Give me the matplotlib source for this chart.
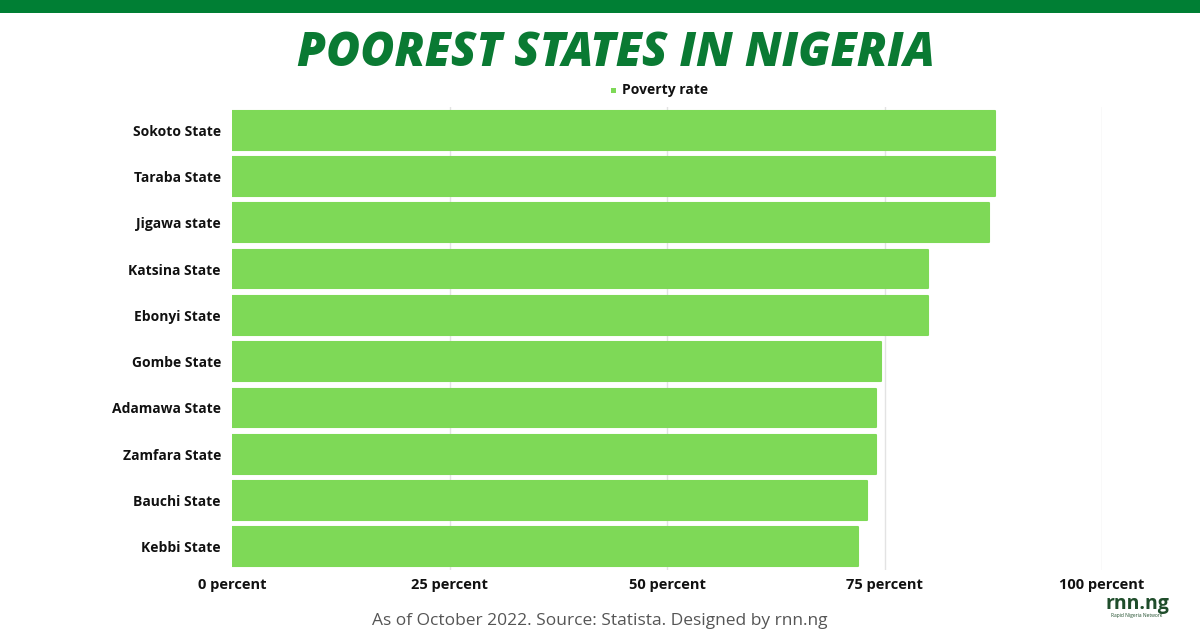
import matplotlib
matplotlib.use('Agg')
import matplotlib.pyplot as plt
from matplotlib.patches import Rectangle

# Data
states = ["Sokoto State", "Taraba State", "Jigawa state", "Katsina State", "Ebonyi State",
          "Gombe State", "Adamawa State", "Zamfara State", "Bauchi State", "Kebbi State"]
poverty_rate = [87.7, 87.7, 87.0, 80.0, 80.0, 74.6, 74.0, 74.0, 73.0, 72.0]
x_ticks = [0, 25, 50, 75, 100]
x_tick_labels = ["0 percent", "25 percent", "50 percent", "75 percent", "100 percent"]

BAR_GREEN = "#7ED957"
DARK_GREEN = "#007F34"

plt.rcParams['font.family'] = ['Open Sans', 'DejaVu Sans']

fig = plt.figure(figsize=(12, 6.3), dpi=100)
fig.patch.set_facecolor('white')

# top band
fig.patches.append(Rectangle((0, 1 - 13 / 630), 1, 13 / 630, transform=fig.transFigure,
                             facecolor=DARK_GREEN, edgecolor='none'))

fig.text(0.513, 1 - 54 / 630, "POOREST STATES IN NIGERIA", ha='center', va='center',
         fontsize=33.5, fontweight='heavy', fontstyle='italic', color="#0A7A33")

ax = fig.add_axes([232 / 1200, 1 - 570 / 630, 870 / 1200, 463 / 630])
y = list(range(len(states)))
ax.barh(y, poverty_rate, height=0.84, color=BAR_GREEN, edgecolor=BAR_GREEN,
        linewidth=1.5, joinstyle='round', zorder=3)
ax.set_ylim(len(states) - 0.5, -0.5)
ax.set_xlim(0, 100)
ax.set_yticks(y)
ax.set_yticklabels(states, fontsize=10, fontweight='bold', color='#111111')
ax.set_xticks(x_ticks)
ax.set_xticklabels(x_tick_labels, fontsize=10.5, fontweight='bold', color='#111111')
ax.tick_params(axis='both', length=0)
ax.tick_params(axis='y', pad=8)
ax.tick_params(axis='x', pad=6)
for t in x_ticks[1:]:
    ax.axvline(t, color='#E3E3E3', linewidth=1, zorder=1)
for s in ax.spines.values():
    s.set_visible(False)

# legend
fig.patches.append(Rectangle((611 / 1200, 1 - 93 / 630), 5 / 1200, 5 / 630,
                             transform=fig.transFigure, facecolor=BAR_GREEN, edgecolor='none'))
fig.text(622 / 1200, 1 - 90 / 630, "Poverty rate", ha='left', va='center',
         fontsize=10, fontweight='bold', color='#111111')

# footer
fig.text(0.5, 1 - 621 / 630, "As of October 2022. Source: Statista. Designed by rnn.ng",
         ha='center', va='center', fontsize=12.5, color='#555555')

# logo
fig.text(1137 / 1200, 1 - 604 / 630, "rnn.ng", ha='center', va='center',
         fontsize=14, fontweight='bold', color='#1F4D2B')
fig.text(1137 / 1200, 1 - 616 / 630, "Rapid Nigeria Network", ha='center', va='center',
         fontsize=3.5, color='#1F4D2B')

fig.savefig('out.png', dpi=100)
